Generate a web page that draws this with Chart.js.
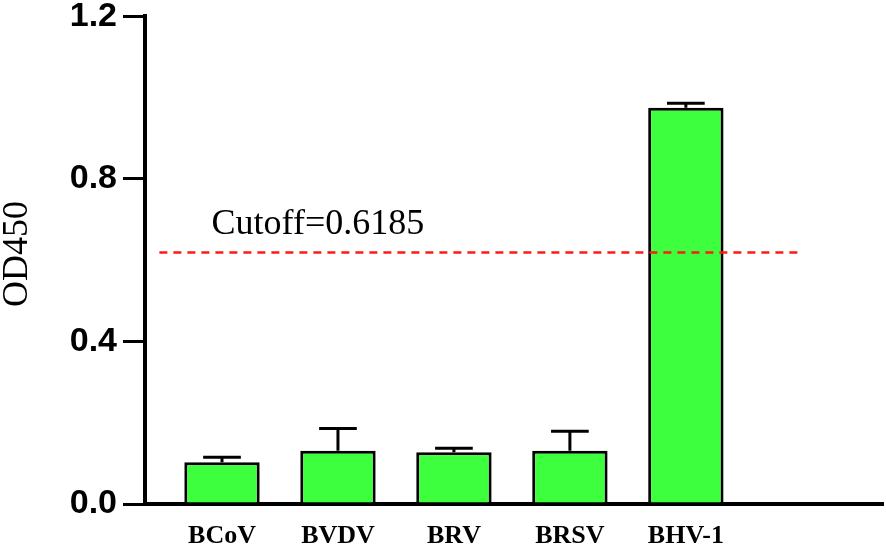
<!DOCTYPE html>
<html>
<head>
<meta charset="utf-8">
<script src="https://cdn.jsdelivr.net/npm/chart.js@4/dist/chart.umd.min.js"></script>
<style>
  html, body { margin: 0; padding: 0; background: #ffffff; }
  #wrap { width: 886px; height: 546px; position: relative; }
</style>
</head>
<body>
<div id="wrap"><canvas id="c" width="886" height="546"></canvas></div>
<script>
// ---- data ----
const categories = ["BCoV", "BVDV", "BRV", "BRSV", "BHV-1"];
const meanOD = [0.103, 0.131, 0.127, 0.131, 0.975];
const errorOD = [0.012, 0.055, 0.010, 0.048, 0.011];
const cutoffValue = 0.6185;
const yTicks = [0.0, 0.4, 0.8, 1.2];

const cutoffLabel = "Cutoff=" + cutoffValue;
const yTitle = "OD450";

// ---- plugins ----
const errorBarPlugin = {
  id: "errorBars",
  afterDatasetsDraw(chart) {
    const ctx = chart.ctx;
    const ys = chart.scales.y;
    const meta = chart.getDatasetMeta(0);
    ctx.save();
    ctx.strokeStyle = "#000";
    ctx.lineWidth = 3;
    meta.data.forEach((bar, i) => {
      const x = bar.x;
      const yTop = ys.getPixelForValue(meanOD[i] + errorOD[i]);
      const yMid = ys.getPixelForValue(meanOD[i]);
      const half = bar.width * 0.25;
      ctx.beginPath();
      ctx.moveTo(x, yMid);
      ctx.lineTo(x, yTop);
      ctx.moveTo(x - half, yTop);
      ctx.lineTo(x + half, yTop);
      ctx.stroke();
    });
    ctx.restore();
  },
  afterDraw(chart) {
    const ctx = chart.ctx;
    const xs = chart.scales.x, ys = chart.scales.y;
    ctx.save();
    ctx.fillStyle = "#000";
    ctx.font = "36px 'Liberation Serif', 'Times New Roman', serif";
    ctx.textAlign = "left";
    ctx.textBaseline = "alphabetic";
    ctx.fillText(cutoffLabel, xs.getPixelForValue(-0.09), ys.getPixelForValue(0.665));
    ctx.translate(27, (ys.top + ys.bottom) / 2 - 6);
    ctx.rotate(-Math.PI / 2);
    ctx.textAlign = "center";
    ctx.textBaseline = "alphabetic";
    ctx.font = "36px 'Liberation Serif', 'Times New Roman', serif";
    ctx.fillText(yTitle, 0, 0);
    ctx.restore();
  }
};

new Chart(document.getElementById("c"), {
  type: "bar",
  data: {
    datasets: [
      {
        type: "bar",
        data: categories.map((c, i) => ({ x: i, y: meanOD[i] })),
        backgroundColor: "#3dff3d",
        borderColor: "#000",
        borderWidth: 3,
        barPercentage: 0.65,
        categoryPercentage: 1.0,
        order: 2
      },
      {
        type: "line",
        data: [{ x: -0.54, y: cutoffValue }, { x: 5.0, y: cutoffValue }],
        borderColor: "#ff1a1a",
        borderWidth: 2.5,
        borderDash: [8, 6],
        pointRadius: 0,
        fill: false,
        order: 1
      }
    ]
  },
  options: {
    responsive: false,
    animation: false,
    devicePixelRatio: 1,
    layout: { padding: { top: 13, right: 3, left: 0, bottom: 0 } },
    plugins: { legend: { display: false }, tooltip: { enabled: false } },
    scales: {
      x: {
        type: "linear",
        min: -0.664,
        max: 5.70,
        offset: false,
        afterBuildTicks: (s) => { s.ticks = categories.map((c, i) => ({ value: i })); },
        afterFit: (s) => { s.height = 42; },
        ticks: {
          autoSkip: false,
          maxRotation: 0,
          padding: 9,
          color: "#000",
          font: { family: "'Liberation Serif', 'Times New Roman', serif", size: 26, weight: "bold" },
          callback: (v) => categories[v]
        },
        grid: { display: false, offset: false },
        border: { display: true, color: "#000", width: 4 }
      },
      y: {
        min: 0,
        max: 1.2,
        afterBuildTicks: (s) => { s.ticks = yTicks.map(v => ({ value: v })); },
        afterFit: (s) => { s.width = 145; },
        ticks: {
          padding: 6,
          color: "#000",
          font: { family: "'Liberation Sans', Arial, sans-serif", size: 34, weight: "bold", lineHeight: 0.6 },
          callback: (v) => v.toFixed(1)
        },
        grid: { display: true, drawOnChartArea: false, drawTicks: true, tickLength: 22, color: "#000", lineWidth: 3 },
        border: { display: true, color: "#000", width: 4 }
      }
    }
  },
  plugins: [errorBarPlugin]
});
</script>
</body>
</html>
